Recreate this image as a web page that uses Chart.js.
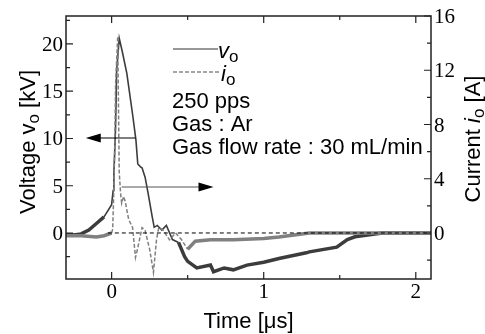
<!DOCTYPE html>
<html>
<head>
<meta charset="utf-8">
<script src="https://cdn.jsdelivr.net/npm/chart.js@4.4.0/dist/chart.umd.min.js"></script>
<style>
  body { margin: 0; background: #fff; }
  canvas { display: block; }
</style>
</head>
<body>
<canvas id="pulseChart" width="485" height="334"></canvas>
<script>
// time axis in us, voltage in kV, current in A
const timeV = [-0.3, -0.25, -0.2, -0.15, -0.1, -0.05, 0, 0.01, 0.015, 0.02, 0.026, 0.033, 0.05, 0.07, 0.1, 0.14, 0.16, 0.172, 0.19, 0.2, 0.22, 0.24, 0.267, 0.28, 0.3, 0.33, 0.36, 0.4, 0.44, 0.48, 0.5, 0.56, 0.65, 0.67, 0.74, 0.8, 0.89, 1.0, 1.1, 1.28, 1.3, 1.48, 1.55, 1.6, 1.78, 1.9, 2.1];
const voltage = [-0.2, -0.2, -0.1, 0.3, 1.0, 1.7, 3.0, 4.5, 6.5, 8.5, 11.2, 17.2, 20.6, 19.2, 16.9, 12.3, 9.8, 7.3, 7.0, 6.9, 5.9, 4.2, 1.7, 0.6, 0.8, 0.3, 0.8, -0.7, -1.0, -2.5, -3.0, -3.7, -3.4, -4.1, -3.7, -3.9, -3.4, -3.1, -2.7, -2.1, -2.0, -1.5, -0.7, -0.4, 0, 0, 0];

const timeI = [-0.3, -0.2, -0.1, -0.05, 0, 0.007, 0.013, 0.02, 0.026, 0.04, 0.046, 0.05, 0.059, 0.066, 0.079, 0.09, 0.112, 0.138, 0.157, 0.17, 0.2, 0.22, 0.25, 0.275, 0.295, 0.31, 0.34, 0.38, 0.42, 0.46, 0.5, 0.55, 0.65, 0.8, 1.0, 1.1, 1.3, 1.5, 1.8, 2.1];
const current = [-0.2, -0.2, -0.3, -0.2, 0, 0.3, 2.6, 6, 11, 14.5, 8.5, 4.5, 2.9, 2.2, 2.7, 2.3, 1.0, 0.4, -1.8, -1.2, 0.4, 0.2, -1.2, -2.9, -0.5, 0.4, 0.2, -0.5, 0, -0.5, -1.2, -0.6, -0.5, -0.5, -0.4, -0.3, 0, 0, 0, 0];

const zeroLine = [-0.025, 2.1];

const timeTicks = [0, 1, 2];
const timeMinor = [0.5, 1.5];
const voltTicks = [0, 5, 10, 15, 20];
const voltMinor = [-2.5, 2.5, 7.5, 12.5, 17.5, 22.5];
const currTicks = [0, 4, 8, 12, 16];
const currMinor = [-2, 2, 6, 10, 14];

const SANS = '"Liberation Sans", Arial, sans-serif';
const SERIF = '"Liberation Serif", "DejaVu Serif", serif';

function richText(ctx, parts, x, y, align, angle) {
  ctx.save();
  ctx.translate(x, y);
  ctx.rotate(angle || 0);
  ctx.textAlign = 'left';
  ctx.textBaseline = 'alphabetic';
  ctx.fillStyle = '#000';
  let w = 0;
  parts.forEach(p => { ctx.font = p.font; w += ctx.measureText(p.text).width; });
  let cx = align === 'center' ? -w / 2 : align === 'right' ? -w : 0;
  parts.forEach(p => {
    ctx.font = p.font;
    ctx.fillText(p.text, cx, p.dy || 0);
    cx += ctx.measureText(p.text).width;
  });
  ctx.restore();
}

function arrow(ctx, x1, x2, y, color) {
  const dir = Math.sign(x2 - x1);
  ctx.save();
  ctx.strokeStyle = color;
  ctx.fillStyle = '#000';
  ctx.lineWidth = 1.2;
  ctx.beginPath();
  ctx.moveTo(x1, y);
  ctx.lineTo(x2 - dir * 12, y);
  ctx.stroke();
  ctx.beginPath();
  ctx.moveTo(x2, y);
  ctx.lineTo(x2 - dir * 15, y - 4.5);
  ctx.lineTo(x2 - dir * 15, y + 4.5);
  ctx.closePath();
  ctx.fill();
  ctx.restore();
}

const overlay = {
  id: 'overlay',
  afterDraw(chart) {
    const { ctx, chartArea: a, scales } = chart;
    const x = scales.x, yv = scales.y, yi = scales.y1;

    ctx.save();
    ctx.strokeStyle = '#222';
    ctx.lineWidth = 1.5;
    ctx.strokeRect(a.left, a.top, a.right - a.left, a.bottom - a.top);

    ctx.lineWidth = 1.2;
    ctx.beginPath();
    const tickX = (vals, len) => vals.forEach(v => {
      const px = x.getPixelForValue(v);
      ctx.moveTo(px, a.bottom); ctx.lineTo(px, a.bottom - len);
      ctx.moveTo(px, a.top); ctx.lineTo(px, a.top + len);
    });
    tickX(timeTicks, 7);
    tickX(timeMinor, 4);
    const tickY = (scale, vals, len, left) => vals.forEach(v => {
      const py = scale.getPixelForValue(v);
      if (left) { ctx.moveTo(a.left, py); ctx.lineTo(a.left + len, py); }
      else { ctx.moveTo(a.right, py); ctx.lineTo(a.right - len, py); }
    });
    tickY(yv, voltTicks, 7, true);
    tickY(yv, voltMinor, 4, true);
    tickY(yi, currTicks, 7, false);
    tickY(yi, currMinor, 4, false);
    ctx.stroke();
    ctx.restore();

    // tick labels
    const T = '21px ' + SERIF;
    timeTicks.forEach(v => richText(ctx, [{ text: String(v), font: T }], x.getPixelForValue(v), 298, 'center', 0));
    voltTicks.forEach(v => richText(ctx, [{ text: String(v), font: T }], a.left - 3, yv.getPixelForValue(v) + 7, 'right', 0));
    currTicks.forEach(v => richText(ctx, [{ text: String(v), font: T }], a.right + 3, yi.getPixelForValue(v) + 7, 'left', 0));

    // axis titles
    const R = '22px ' + SANS;
    const SUB = '17px ' + SANS;
    const IT = 'italic 22px ' + SANS;
    richText(ctx, [{ text: 'Voltage ', font: R }, { text: 'v', font: R }, { text: 'o', font: SUB, dy: 4 }, { text: ' [kV]', font: R }], 35, 142, 'center', -Math.PI / 2);
    richText(ctx, [{ text: 'Current ', font: R }, { text: 'i', font: IT }, { text: 'o', font: SUB, dy: 4 }, { text: ' [A]', font: R }], 480, 139, 'center', -Math.PI / 2);
    richText(ctx, [{ text: 'Time [\u03bcs]', font: R }], (a.left + a.right) / 2, 328, 'center', 0);

    // legend
    ctx.save();
    ctx.strokeStyle = '#333';
    ctx.lineWidth = 1.2;
    ctx.beginPath(); ctx.moveTo(173, 49); ctx.lineTo(218, 49); ctx.stroke();
    ctx.strokeStyle = '#888';
    ctx.lineWidth = 1.5;
    ctx.setLineDash([4, 2]);
    ctx.beginPath(); ctx.moveTo(173, 72); ctx.lineTo(219, 72); ctx.stroke();
    ctx.restore();
    richText(ctx, [{ text: 'v', font: IT }, { text: 'o', font: SUB, dy: 4 }], 218, 58, 'left', 0);
    richText(ctx, [{ text: 'i', font: IT }, { text: 'o', font: SUB, dy: 4 }], 221, 81, 'left', 0);
    richText(ctx, [{ text: '250 pps', font: R }], 172, 108, 'left', 0);
    richText(ctx, [{ text: 'Gas : Ar', font: R }], 172, 131, 'left', 0);
    richText(ctx, [{ text: 'Gas flow rate : 30 mL/min', font: R }], 172, 154, 'left', 0);

    // axis pointers
    arrow(ctx, x.getPixelForValue(0.157), x.getPixelForValue(-0.17), Math.round(yv.getPixelForValue(10)), '#000');
    arrow(ctx, x.getPixelForValue(0.066), x.getPixelForValue(0.67), Math.round(yi.getPixelForValue(3.4)), '#555');
  }
};

const inPulseV = t => t > -0.06 && t < 0.42;
const inPulseI = t => t > -0.02 && t < 0.5;

new Chart(document.getElementById('pulseChart'), {
  type: 'line',
  data: {
    datasets: [
      {
        label: 'zero',
        data: zeroLine.map(t => ({ x: t, y: 0 })),
        yAxisID: 'y',
        borderColor: '#000',
        borderWidth: 1,
        borderDash: [4, 3],
        pointRadius: 0,
        order: 0
      },
      {
        label: 'io',
        data: timeI.map((t, i) => ({ x: t, y: current[i] })),
        yAxisID: 'y1',
        borderColor: '#808080',
        pointRadius: 0,
        tension: 0,
        order: 1,
        segment: {
          borderWidth: c => inPulseI(c.p0.parsed.x) ? 1.5 : 3.5,
          borderDash: c => inPulseI(c.p0.parsed.x) ? [4, 2] : []
        }
      },
      {
        label: 'vo',
        data: timeV.map((t, i) => ({ x: t, y: voltage[i] })),
        yAxisID: 'y',
        borderColor: '#3c3c3c',
        pointRadius: 0,
        tension: 0,
        order: 2,
        segment: {
          borderWidth: c => inPulseV(c.p0.parsed.x) ? 1.6 : 3.5
        }
      }
    ]
  },
  options: {
    responsive: false,
    animation: false,
    devicePixelRatio: 1,
    layout: { padding: { top: 16, left: 0, right: 0, bottom: 0 } },
    plugins: { legend: { display: false }, tooltip: { enabled: false } },
    scales: {
      x: {
        type: 'linear',
        min: -0.3,
        max: 2.1,
        grid: { display: false, drawTicks: false },
        border: { display: false },
        ticks: { display: false },
        afterFit: s => { s.height = 55; }
      },
      y: {
        position: 'left',
        min: -4.87,
        max: 22.96,
        grid: { display: false, drawTicks: false },
        border: { display: false },
        ticks: { display: false },
        afterFit: s => { s.width = 66; }
      },
      y1: {
        position: 'right',
        min: -3.39,
        max: 16,
        grid: { display: false, drawTicks: false },
        border: { display: false },
        ticks: { display: false },
        afterFit: s => { s.width = 54; }
      }
    }
  },
  plugins: [overlay]
});
</script>
</body>
</html>
